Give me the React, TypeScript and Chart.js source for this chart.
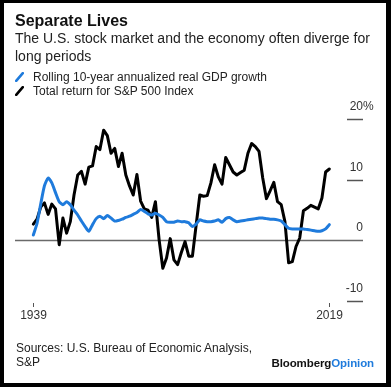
import React, { useEffect, useRef } from "react";
import { Chart, registerables } from "chart.js";

Chart.register(...registerables);

const years = [
  1939, 1940, 1941, 1942, 1943, 1944, 1945, 1946, 1947, 1948, 1949,
  1950, 1951, 1952, 1953, 1954, 1955, 1956, 1957, 1958, 1959,
  1960, 1961, 1962, 1963, 1964, 1965, 1966, 1967, 1968, 1969,
  1970, 1971, 1972, 1973, 1974, 1975, 1976, 1977, 1978, 1979,
  1980, 1981, 1982, 1983, 1984, 1985, 1986, 1987, 1988, 1989,
  1990, 1991, 1992, 1993, 1994, 1995, 1996, 1997, 1998, 1999,
  2000, 2001, 2002, 2003, 2004, 2005, 2006, 2007, 2008, 2009,
  2010, 2011, 2012, 2013, 2014, 2015, 2016, 2017, 2018, 2019,
];

const gdpGrowth = [
  0.9, 2.8, 6.0, 9.0, 10.3, 9.5, 7.9, 6.4, 5.9, 6.4, 5.9,
  5.0, 4.2, 3.2, 2.3, 1.5, 2.6, 3.6, 4.0, 3.6, 4.1,
  3.7, 3.2, 3.3, 3.5, 3.8, 4.0, 4.3, 4.6, 5.1, 4.8,
  4.4, 4.2, 4.5, 4.2, 3.8, 3.1, 3.0, 3.0, 3.2, 3.1,
  3.1, 2.9, 2.3, 2.7, 3.4, 3.2, 3.1, 3.1, 3.2, 3.4,
  3.0, 3.6, 3.8, 3.4, 3.1, 3.2, 3.3, 3.4, 3.5, 3.6,
  3.7, 3.7, 3.6, 3.5, 3.5, 3.4, 3.2, 2.6, 2.0, 1.9,
  1.9, 1.9, 1.9, 1.8, 1.7, 1.6, 1.5, 1.6, 1.9, 2.6,
];

const spReturn = [
  2.7, 3.5, 5.5, 6.2, 4.3, 6.0, 5.2, -0.7, 3.7, 1.2, 3.1,
  7.5, 10.8, 11.4, 9.3, 12.1, 12.3, 15.5, 15.0, 18.2, 17.3,
  14.4, 15.2, 12.2, 14.4, 10.8, 9.0, 7.5, 10.9, 6.5, 5.2,
  5.0, 3.8, 6.4, 0.1, -4.6, -2.9, 0.3, -3.2, -4.0, -2.0,
  -0.2, -2.6, -2.6, 2.5, 7.5, 7.3, 7.4, 9.5, 12.5, 10.5,
  9.3, 13.7, 12.5, 11.3, 10.8, 11.2, 11.6, 14.4, 16.0, 15.5,
  14.7, 10.3, 6.9, 8.2, 9.6, 6.4, 5.9, 3.1, -3.7, -3.5,
  -1.0, 0.4, 4.9, 5.3, 5.8, 5.5, 5.2, 7.0, 11.3, 11.8,
];

const yTickValues = [20, 10, 0, -10];
const yTickLabels = ["20%", "10", "0", "-10"];
const xTickValues = [1939, 2019];
const xTickLabels = ["1939", "2019"];

const seriesNames = [
  "Rolling 10-year annualized real GDP growth",
  "Total return for S&P 500 Index",
];

const BLUE = "#1f7bdc";
const FONT = '"Liberation Sans", Arial, sans-serif';

const axisPlugin = {
  id: "bbgAxes",
  beforeDatasetsDraw(chart: any) {
    const { ctx, chartArea, scales } = chart;
    const x = scales.x;
    const y = scales.y;
    ctx.save();
    ctx.lineCap = "butt";
    yTickValues.forEach((v, i) => {
      const py = Math.round(y.getPixelForValue(v)) + 0.5;
      ctx.strokeStyle = v === 0 ? "#6a6a6a" : "#555";
      ctx.lineWidth = 1.5;
      ctx.beginPath();
      ctx.moveTo(v === 0 ? chartArea.left : chartArea.right - 16, py);
      ctx.lineTo(chartArea.right, py);
      ctx.stroke();
      ctx.fillStyle = "#333";
      ctx.font = `12px ${FONT}`;
      ctx.textBaseline = "middle";
      const label = yTickLabels[i];
      const num = label.replace("%", "");
      ctx.textAlign = "right";
      ctx.fillText(num, chartArea.right, py - 12.5);
      if (label.endsWith("%")) {
        ctx.textAlign = "left";
        ctx.fillText("%", chartArea.right, py - 12.5);
      }
    });
    xTickValues.forEach((v, i) => {
      const px = Math.round(x.getPixelForValue(v)) + 0.5;
      ctx.strokeStyle = "#555";
      ctx.lineWidth = 1;
      ctx.beginPath();
      ctx.moveTo(px, 303);
      ctx.lineTo(px, 307);
      ctx.stroke();
      ctx.fillStyle = "#333";
      ctx.font = `12px ${FONT}`;
      ctx.textAlign = "center";
      ctx.textBaseline = "middle";
      ctx.fillText(xTickLabels[i], px, 315.5);
    });
    ctx.restore();
  },
};

function LegendIcon({ color }: { color: string }) {
  return (
    <svg width="9" height="10" style={{ position: "absolute", left: 15, top: 2 }}>
      <line x1="1.2" y1="8.8" x2="7.8" y2="1.2" stroke={color} strokeWidth="2.6" strokeLinecap="round" />
    </svg>
  );
}

export default function App() {
  const canvasRef = useRef<HTMLCanvasElement | null>(null);

  useEffect(() => {
    const canvas = canvasRef.current;
    if (!canvas) return;
    const chart = new Chart(canvas, {
      type: "line",
      data: {
        datasets: [
          {
            label: seriesNames[0],
            data: years.map((yr, i) => ({ x: yr, y: gdpGrowth[i] })),
            borderColor: BLUE,
            borderWidth: 3,
            pointRadius: 0,
            tension: 0.2,
            borderJoinStyle: "round",
            borderCapStyle: "round",
            fill: false,
          },
          {
            label: seriesNames[1],
            data: years.map((yr, i) => ({ x: yr, y: spReturn[i] })),
            borderColor: "#000",
            borderWidth: 3,
            pointRadius: 0,
            tension: 0,
            borderJoinStyle: "round",
            borderCapStyle: "round",
            fill: false,
          },
        ],
      },
      options: {
        responsive: false,
        animation: false,
        devicePixelRatio: 1,
        layout: { padding: { left: 15, right: 28, top: 119.3, bottom: 86 } },
        plugins: { legend: { display: false }, tooltip: { enabled: false }, title: { display: false } },
        scales: {
          x: { type: "linear", min: 1934.05, max: 2028.1, display: false },
          y: { type: "linear", min: -10, max: 20, display: false },
        },
      },
      plugins: [axisPlugin],
    });
    return () => chart.destroy();
  }, []);

  const text: React.CSSProperties = { position: "absolute", fontFamily: FONT, color: "#222", whiteSpace: "nowrap" };

  return (
    <div style={{ position: "fixed", left: 0, top: 0, width: 391, height: 387, background: "#000" }}>
      <div style={{ position: "absolute", left: 4, top: 3, width: 382, height: 380, background: "#fff" }} />
      <canvas ref={canvasRef} width={391} height={387} style={{ position: "absolute", left: 0, top: 0, width: 391, height: 387 }} />
      <div style={{ ...text, left: 15, top: 11, fontSize: 16, fontWeight: 700, lineHeight: "19px", color: "#111" }}>Separate Lives</div>
      <div style={{ ...text, left: 15, top: 28.5, fontSize: 14, lineHeight: "18px" }}>
        The U.S. stock market and the economy often diverge for
        <br />
        long periods
      </div>
      <div style={{ ...text, left: 0, top: 70, fontSize: 12, lineHeight: "14.4px", width: 300 }}>
        <div style={{ position: "relative", paddingLeft: 33 }}>
          <LegendIcon color={BLUE} />
          {seriesNames[0]}
        </div>
        <div style={{ position: "relative", paddingLeft: 33 }}>
          <LegendIcon color="#000" />
          {seriesNames[1]}
        </div>
      </div>
      <div style={{ ...text, left: 16, top: 341, fontSize: 12, lineHeight: "14px" }}>
        Sources: U.S. Bureau of Economic Analysis,
        <br />
        S&P
      </div>
      <div style={{ ...text, right: 17, top: 356, fontSize: 11.5, lineHeight: "14px", fontWeight: 700, letterSpacing: -0.1 }}>
        <span style={{ color: "#111" }}>Bloomberg</span>
        <span style={{ color: BLUE }}>Opinion</span>
      </div>
    </div>
  );
}
